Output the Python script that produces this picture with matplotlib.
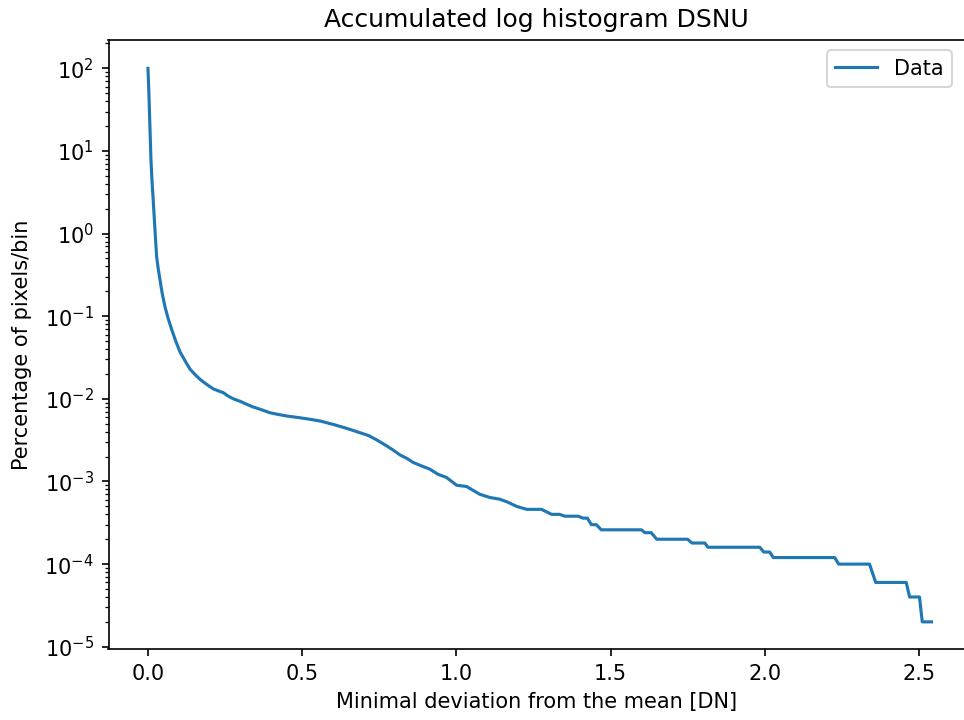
import matplotlib
matplotlib.use("Agg")
import matplotlib.pyplot as plt

deviation = [0.0, 0.003, 0.005, 0.0097, 0.013, 0.017, 0.0227, 0.028, 0.033, 0.039,
             0.046, 0.055, 0.065, 0.077, 0.090, 0.104, 0.120, 0.136, 0.152, 0.169,
             0.190, 0.212, 0.228, 0.244, 0.260, 0.277, 0.300, 0.320, 0.340, 0.363,
             0.395, 0.420, 0.450, 0.493, 0.520, 0.558, 0.601, 0.644, 0.687, 0.715,
             0.741, 0.774, 0.795, 0.817, 0.840, 0.860, 0.882, 0.914, 0.941, 0.968,
             1.001, 1.033, 1.076, 1.109, 1.141, 1.168, 1.195, 1.228, 1.276, 1.292,
             1.309, 1.335, 1.352, 1.395, 1.411, 1.425, 1.438, 1.454, 1.470, 1.600,
             1.612, 1.632, 1.650, 1.750, 1.764, 1.806, 1.816, 1.984, 1.997, 2.016,
             2.028, 2.227, 2.240, 2.340, 2.360, 2.459, 2.470, 2.502, 2.511, 2.541]
percentage = [100, 50, 28.6, 7.8, 4.4, 2.55, 1.11, 0.53, 0.38, 0.276,
              0.19, 0.131, 0.095, 0.069, 0.050, 0.037, 0.029, 0.023, 0.0198, 0.0172,
              0.0150, 0.0132, 0.0125, 0.0119, 0.0108, 0.0100, 0.0093, 0.0086, 0.0080, 0.0075,
              0.0068, 0.0065, 0.0062, 0.0059, 0.0057, 0.0054, 0.0049, 0.0044, 0.0039, 0.0036,
              0.0032, 0.0027, 0.0024, 0.0021, 0.0019, 0.0017, 0.00157, 0.00141, 0.00122, 0.00112,
              0.00090, 0.00087, 0.00070, 0.00064, 0.00061, 0.00056, 0.00050, 0.00046, 0.00046, 0.00043,
              0.00040, 0.00040, 0.00038, 0.00038, 0.00036, 0.00036, 0.00030, 0.00030, 0.00026, 0.00026,
              0.00024, 0.00024, 0.00020, 0.00020, 0.00018, 0.00018, 0.00016, 0.00016, 0.00014, 0.00014,
              0.00012, 0.00012, 0.00010, 0.00010, 0.00006, 0.00006, 0.00004, 0.00004, 0.00002, 0.00002]

W, H = 964, 720
fig = plt.figure(figsize=(W / 150, H / 150), dpi=150)
ax = fig.add_axes([108.5 / W, (H - 649.3) / H, (964.5 - 108.5) / W, (649.3 - 40) / H])
ax.plot(deviation, percentage, color="#1f77b4", linewidth=1.5, label="Data")
ax.set_yscale("log")
ax.set_xlim(-0.128, 2.648)
ax.set_ylim(10 ** -5.031, 10 ** 2.343)
ax.set_title("Accumulated log histogram DSNU")
ax.set_xlabel("Minimal deviation from the mean [DN]")
ax.set_ylabel("Percentage of pixels/bin", labelpad=6)
ax.legend(loc="upper right", bbox_to_anchor=(962 / W, (H - 40) / H),
          bbox_transform=fig.transFigure, borderaxespad=0.5)
fig.savefig("out.png", dpi=150)
